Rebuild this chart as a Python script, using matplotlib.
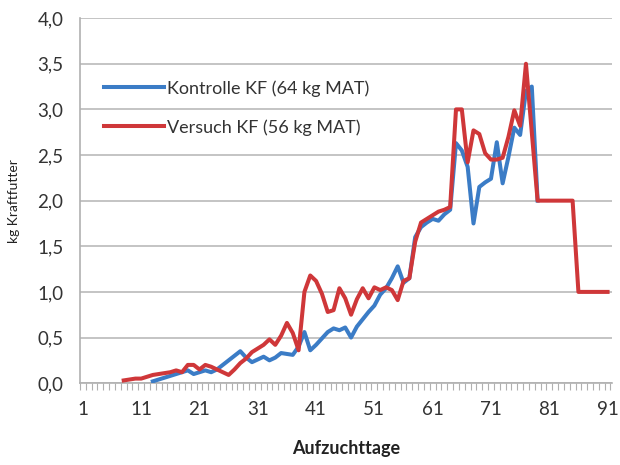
import numpy as np
from matplotlib import pyplot as plt
from matplotlib.ticker import FixedLocator, MultipleLocator, FuncFormatter

# Kraftfutteraufnahme je Tag (kg)
kontrolle_tage = list(range(13, 80))
kontrolle = [0.02, 0.04, 0.06, 0.08, 0.10, 0.12, 0.14, 0.10, 0.12, 0.14,
             0.12, 0.15, 0.20, 0.25, 0.30, 0.35, 0.28, 0.23, 0.26, 0.29,
             0.25, 0.28, 0.33, 0.32, 0.31, 0.40, 0.56, 0.36, 0.42, 0.49,
             0.56, 0.60, 0.58, 0.61, 0.50, 0.62, 0.70, 0.78, 0.85, 0.97,
             1.04, 1.15, 1.28, 1.10, 1.15, 1.60, 1.71, 1.76, 1.80, 1.78,
             1.85, 1.90, 2.63, 2.55, 2.37, 1.75, 2.15, 2.20, 2.24, 2.64,
             2.19, 2.48, 2.80, 2.72, 3.20, 3.25, 2.00]

versuch_tage = list(range(8, 92))
versuch = [0.03, 0.04, 0.05, 0.05, 0.07, 0.09, 0.10, 0.11, 0.12, 0.14,
           0.12, 0.20, 0.20, 0.15, 0.20, 0.18, 0.15, 0.12, 0.09, 0.15,
           0.22, 0.27, 0.34, 0.38, 0.42, 0.48, 0.42, 0.52, 0.66, 0.55,
           0.36, 1.00, 1.18, 1.12, 0.98, 0.78, 0.80, 1.04, 0.93, 0.75,
           0.92, 1.04, 0.93, 1.05, 1.02, 1.05, 1.02, 0.91, 1.12, 1.15,
           1.55, 1.76, 1.80, 1.84, 1.88, 1.90, 1.93, 3.00, 3.00, 2.42,
           2.77, 2.73, 2.52, 2.45, 2.45, 2.47, 2.70, 2.99, 2.82, 3.50,
           2.75, 2.00, 2.00, 2.00, 2.00, 2.00, 2.00, 2.00, 1.00, 1.00,
           1.00, 1.00, 1.00, 1.00]

x_labels = [1, 11, 21, 31, 41, 51, 61, 71, 81, 91]

plt.rcParams['font.family'] = ['Lato', 'DejaVu Sans']

fig = plt.figure(figsize=(6.2, 4.65), dpi=100)
ax = fig.add_axes([0.129, 0.176, 0.858, 0.785])

ax.plot(kontrolle_tage, kontrolle, color='#3b7cc6', lw=2.9,
        label='Kontrolle KF (64 kg MAT)', zorder=3)
ax.plot(versuch_tage, versuch, color='#cf3739', lw=2.9,
        label='Versuch KF (56 kg MAT)', zorder=4)

ax.set_xlim(0.5, 91.75)
ax.set_ylim(0, 4.0)
ax.yaxis.set_major_locator(MultipleLocator(0.5))
ax.yaxis.set_major_formatter(FuncFormatter(lambda v, p: f'{v:.1f}'.replace('.', ',')))
ax.grid(axis='y', color='#bfbfbf', lw=1.3)
ax.set_axisbelow(True)

ax.xaxis.set_major_locator(FixedLocator(x_labels))
ax.xaxis.set_minor_locator(FixedLocator(np.arange(0.5, 92, 1)))
ax.tick_params(axis='x', which='major', length=0, labelsize=13.5, pad=13, colors='#333333')
ax.tick_params(axis='x', which='minor', length=5, color='#b0b0b0', width=0.8)
ax.tick_params(axis='y', length=0, labelsize=13.5, pad=12, colors='#333333')

for s in ['top', 'right']:
    ax.spines[s].set_visible(False)
ax.spines['left'].set_color('#b0b0b0')
ax.spines['bottom'].set_color('#b0b0b0')
ax.spines['left'].set_linewidth(1.2)
ax.spines['bottom'].set_linewidth(1.2)

ax.set_xlabel('Aufzuchttage', fontsize=13, fontweight='bold', color='#222222', labelpad=16)
ax.set_ylabel('kg Kraftfutter', fontsize=10, color='#222222', labelpad=12)

ax.legend(loc='upper left', bbox_to_anchor=(0.015, 0.875), frameon=False,
          fontsize=13, handlelength=3.3, handletextpad=0.15, labelspacing=1.25,
          labelcolor='#333333')

plt.savefig('out.png', dpi=100)
plt.close('all')
